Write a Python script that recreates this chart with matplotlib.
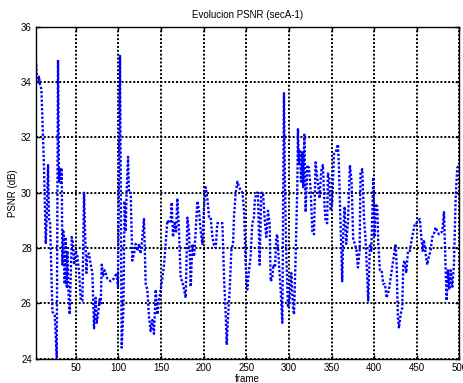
import numpy as np
import matplotlib.pyplot as plt

plt.rcParams['font.family'] = ['Liberation Sans', 'DejaVu Sans']

# trazado de la curva PSNR (frame, dB)
frames = [3.1, 4.3, 5.9, 7, 8.2, 9.8, 12.9, 14.9, 16, 17.6, 18.8, 20, 22.7, 25.4, 27.8,
          29.3, 30.5, 31.7, 32.5, 33.6, 34.4, 35.6, 37.1, 38.3, 39.5, 40.3, 41.4, 43, 44.2,
          45.4, 47, 48.1, 50, 52, 54, 56, 57.9, 59.8, 61, 62.6, 63.7, 65.7, 67.6, 69.6,
          71.5, 73.5, 74.7, 76.6, 78.2, 79.4, 80.5, 82.1, 84, 87.1, 91, 94.9, 98.1, 99.6,
          102, 103.9, 105.9, 107.4, 108.6, 109.8, 111.4, 112.5, 114.5, 116.4, 118.4, 120.3,
          122.3, 124.3, 126.2, 128.2, 130.1, 132.1, 134, 136, 137.9, 139.9, 141.8, 143.8,
          145.8, 147.7, 151.6, 153.6, 155.5, 157.5, 159.4, 161.4, 162.6, 164.1, 166.1,
          167.7, 169.2, 171.2, 173.1, 175.1, 179, 181, 182.9, 184.9, 186.8, 188.8, 190.7,
          192.7, 194.6, 196.6, 198.5, 200.5, 202.4, 204.4, 206.4, 208.3, 210.3, 212.2,
          214.2, 216.1, 218.1, 222, 224, 225.9, 227.1, 228.6, 230.6, 232.5, 234.5, 235.7,
          237.6, 239.6, 241.5, 243.5, 245.5, 247.4, 249.3, 251.2, 253.2, 255.1, 257.1,
          259, 260.2, 262.2, 263.7, 265.7, 267.6, 269.6, 271.5, 273.5, 275.5, 277.4,
          278.6, 280.5, 281.7, 283.7, 285.2, 286.4, 288.4, 290.3, 292.3, 294.2, 295.4,
          297, 298.9, 300.9, 302.8, 304.8, 306, 307.9, 309.9, 310.6, 311.8, 313, 314.2,
          315.7, 316.9, 318.1, 319.6, 321.6, 323.5, 325.5, 327.5, 329.4, 331.3, 333.2,
          336, 337.9, 339.9, 341.8, 343, 344.9, 345.7, 347.3, 348.9, 350.8, 352.8, 354.7,
          357.5, 358.6, 360.6, 362.5, 363.7, 365.3, 367.2, 369.2, 371.5, 373.5, 375.4,
          377.4, 379.3, 380.9, 382.9, 384, 386, 388, 389.9, 391.9, 393, 395, 396.6, 398.9,
          400.5, 401.6, 403.6, 404.8, 406.7, 408.7, 410.6, 412.6, 414.5, 417.3, 419.2,
          421.2, 423.1, 425.1, 426.3, 427.8, 429, 431, 432.9, 434.1, 435.6, 437.6, 439.6,
          441.9, 443.9, 445.8, 447.8, 449.7, 451.7, 453.6, 455.2, 456.8, 458.3, 460.3,
          462.2, 464.2, 466.1, 468.1, 470, 472, 474, 475.9, 477.9, 479.8, 481.8, 483.7,
          484.9, 486.5, 488.1, 489.6, 491.6, 493.5, 495.5, 497.4, 499.4]
psnr = [34.95, 34.3, 34.0, 34.2, 33.9, 33.75, 30.9, 28.15, 29.1, 31.0, 29.0, 28.9, 25.7, 25.6, 24.05,
        34.8, 30.4, 30.9, 30.3, 30.9, 27.4, 28.6, 26.7, 28.4, 26.6, 27.9, 26.5, 25.6, 27.0,
        28.4, 28.15, 27.4, 27.9, 27.7, 27.1, 26.1, 26.1, 30.0, 28.6, 27.1, 27.8, 27.8, 27.4, 27.1,
        25.1, 26.2, 25.3, 25.7, 26.2, 26.0, 27.4, 27.0, 27.2, 26.9, 26.8, 26.9, 27.1, 26.6,
        34.95, 24.4, 25.7, 29.7, 28.6, 30.1, 31.3, 30.0, 30.0, 27.55, 27.8, 28.15,
        27.9, 28.15, 27.8, 28.4, 29.05, 26.7, 26.5, 25.5, 25.0, 25.4, 24.9, 26.5,
        25.6, 26.1, 26.9, 27.4, 28.15, 29.0, 28.9, 29.0, 29.65, 28.4, 28.9,
        28.6, 29.8, 28.6, 26.9, 26.8, 26.2, 29.1, 28.6, 26.6, 28.15, 27.7, 28.6,
        29.7, 29.35, 28.6, 28.15, 29.5, 30.2, 29.8, 29.1, 29.1, 28.4, 28.1,
        28.0, 28.9, 28.9, 28.9, 26.9, 25.6, 24.5, 25.5, 26.5, 27.9, 28.15, 29.2,
        30.0, 30.4, 30.2, 30.1, 30.0, 29.35, 27.4, 26.5, 27.2, 27.7, 28.9,
        29.1, 29.8, 30.0, 30.0, 27.4, 30.0, 30.0, 29.1, 28.4, 29.35, 28.9,
        26.8, 26.9, 27.4, 27.3, 28.4, 28.5, 27.4, 26.5, 25.3, 33.6, 30.4,
        27.7, 25.85, 26.2, 27.1, 25.85, 25.6, 27.7, 30.3, 32.3, 31.0, 31.5, 30.4,
        31.5, 30.2, 32.1, 29.3, 31.0, 30.9, 30.1, 28.6, 28.5, 31.1, 30.56,
        29.8, 30.8, 31.0, 29.5, 29.0, 28.9, 30.7, 30.56, 29.35, 29.6, 31.4, 31.45,
        31.75, 31.0, 28.75, 26.8, 28.6, 29.5, 28.15, 28.9, 31.0, 30.4, 28.3,
        28.15, 27.9, 27.3, 27.9, 30.7, 30.86, 29.1, 28.3, 26.9, 26.1, 28.15, 27.9, 30.56,
        28.4, 29.6, 29.5, 28.15, 27.2, 27.2, 26.7, 26.7, 26.2, 26.5, 26.9,
        27.3, 27.7, 28.15, 27.4, 25.5, 25.1, 25.6, 25.85, 27.4, 27.55, 27.1, 27.9,
        27.9, 28.3, 28.6, 28.9, 28.9, 29.0, 29.05, 28.4, 27.9, 28.3, 27.8,
        27.4, 27.7, 27.9, 28.4, 28.5, 28.75, 28.6, 28.5, 28.55, 28.6, 29.3, 27.4,
        26.1, 27.2, 26.5, 27.2, 26.6, 27.4, 29.8, 30.9, 31.0]

xticks = [50, 100, 150, 200, 250, 300, 350, 400, 450, 500]
yticks = [24, 26, 28, 30, 32, 34, 36]

fig = plt.figure(figsize=(4.63, 3.83), dpi=100)
ax = fig.add_axes([0.0778, 0.0634, 0.9146, 0.8666])

ax.plot(frames, psnr, color='#0000ff', linestyle=(0, (1, 0.8)), linewidth=1.7)

ax.set_xlim(3.5, 500)
ax.set_ylim(24, 36)
ax.set_xticks(xticks)
ax.set_yticks(yticks)
ax.grid(True, color='black', linestyle=(0, (1, 1)), linewidth=1.4)
ax.tick_params(direction='in', length=3, width=1, labelsize=7, top=True, right=True, pad=3)
for s in ax.spines.values():
    s.set_linewidth(1.0)

ax.set_title('Evolucion PSNR (secA-1)', fontsize=7, pad=6)
ax.set_xlabel('frame', fontsize=7, labelpad=1)
ax.set_ylabel('PSNR (dB)', fontsize=7, labelpad=2)

fig.savefig('out.png', dpi=100)
